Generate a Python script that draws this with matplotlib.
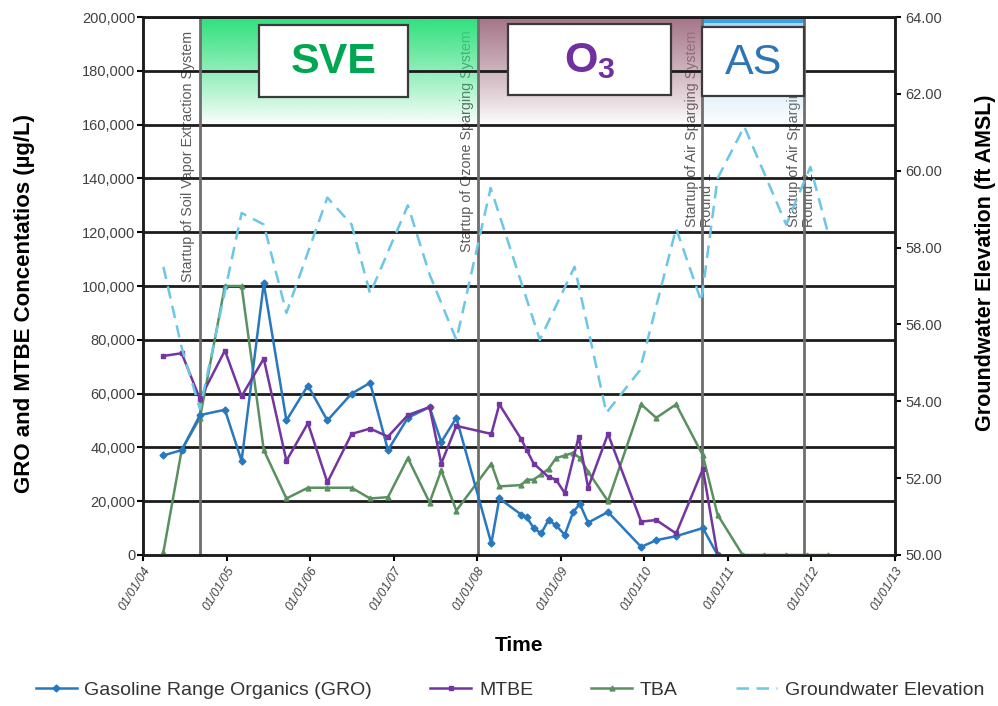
import matplotlib
matplotlib.use('Agg')
import matplotlib.pyplot as plt
import matplotlib.dates as mdates
import matplotlib.colors as mcolors
from matplotlib.patches import Rectangle
from matplotlib.ticker import FuncFormatter, MultipleLocator
import numpy as np
import pandas as pd

plt.rcParams['font.family'] = ['Liberation Sans', 'DejaVu Sans']
plt.rcParams['mathtext.fontset'] = 'custom'
plt.rcParams['mathtext.rm'] = 'Liberation Sans'
plt.rcParams['mathtext.bf'] = 'Liberation Sans:bold'

# concentration data (ug/L)
gro_dates = ['2004-03-30', '2004-06-18', '2004-09-06', '2004-12-24', '2005-03-07', '2005-06-12',
             '2005-09-19', '2005-12-22', '2006-03-17', '2006-07-01', '2006-09-20', '2006-12-07',
             '2007-03-04', '2007-06-07', '2007-07-28', '2007-10-02', '2008-03-03', '2008-04-07',
             '2008-07-12', '2008-08-05', '2008-09-04', '2008-10-07', '2008-11-08', '2008-12-11',
             '2009-01-18', '2009-02-24', '2009-03-25', '2009-04-30', '2009-07-26', '2009-12-18',
             '2010-02-22', '2010-05-20', '2010-09-14', '2010-11-17']
gro = [37000, 39000, 52000, 54000, 35000, 101000, 50000, 63000, 50000, 60000, 64000, 39000,
       51000, 55000, 42000, 51000, 4300, 21000, 15000, 14000, 10000, 8000, 13000, 11000,
       7500, 16000, 19000, 12000, 16000, 3000, 5500, 7000, 10000, 0]

mtbe_dates = ['2004-03-30', '2004-06-18', '2004-09-06', '2004-12-24', '2005-03-07', '2005-06-12',
              '2005-09-19', '2005-12-22', '2006-03-17', '2006-07-01', '2006-09-20', '2006-12-07',
              '2007-03-04', '2007-06-07', '2007-07-28', '2007-10-02', '2008-03-03', '2008-04-07',
              '2008-07-12', '2008-08-05', '2008-09-04', '2008-11-08', '2008-12-11', '2009-01-18',
              '2009-03-20', '2009-04-30', '2009-07-26', '2009-12-18', '2010-02-22', '2010-05-20',
              '2010-09-14', '2010-11-17']
mtbe = [74000, 75000, 58000, 76000, 59000, 73000, 35000, 49000, 27000, 45000, 47000, 44000,
        52000, 55000, 34000, 48000, 45000, 56000, 43000, 39000, 34000, 29000, 28000, 23000,
        44000, 25000, 45000, 12400, 13000, 8000, 32000, 0]

tba_dates = gro_dates + ['2011-03-07', '2011-06-10', '2011-09-13', '2011-12-15', '2012-03-16']
tba = [1000, 39000, 51000, 100000, 100000, 39000, 21000, 25000, 25000, 25000, 21000, 21500,
       36000, 19500, 31500, 16500, 34000, 25500, 26000, 28000, 28000, 30000, 32000, 36000,
       37000, 38000, 36000, 31000, 20000, 56000, 51000, 56000, 37000, 15000, 0, 0, 0, 0, 0]

# groundwater elevation (ft AMSL)
gw_dates = ['2004-03-30', '2004-06-18', '2004-09-06', '2005-03-07', '2005-06-12', '2005-09-19',
            '2006-03-17', '2006-07-01', '2006-09-20', '2007-03-04', '2007-06-07', '2007-10-02',
            '2008-02-29', '2008-10-01', '2009-03-02', '2009-07-19', '2009-12-12', '2010-05-20',
            '2010-09-07', '2010-11-17', '2011-03-14', '2011-09-13', '2011-12-28', '2012-03-13']
gw_elev = [57.5, 55.4, 53.8, 58.9, 58.6, 56.3, 59.3, 58.6, 56.8, 59.1, 57.3, 55.6,
           59.55, 55.6, 57.5, 53.7, 54.8, 58.5, 56.6, 59.8, 61.15, 58.6, 60.1, 58.4]

event_dates = ['2004-09-06', '2008-01-03', '2010-09-12', '2011-12-01']
event_labels = ['Startup of Soil Vapor Extraction System',
                'Startup of Ozone Sparging System',
                'Startup of Air Sparging System\nRound 1',
                'Startup of Air Sparging System\nRound 2']
event_label_y = [101500, 112600, 121900, 121900]
event_label_dx = [-8.5, -8, -2, -2]

c_gro = '#2878C0'
c_mtbe = '#7435A0'
c_tba = '#5A9060'
c_gw = '#6CC6E6'

d = lambda s: mdates.date2num(pd.to_datetime(s))

fig = plt.figure(figsize=(9.98, 7.06), dpi=100)
ax = fig.add_axes([0.1433, 0.2139, 0.7535, 0.7620])
ax2 = ax.twinx()

ev = [d(s) for s in event_dates]


def shade(x0, x1, color, y0=160000, y1=200000):
    img = np.zeros((200, 1, 4))
    img[:, 0, :3] = mcolors.to_rgb(color)
    img[:, 0, 3] = np.linspace(1, 0, 200) ** 0.9
    ax.imshow(img, extent=[x0, x1, y0, y1], aspect='auto', zorder=1,
              interpolation='bilinear')


shade(ev[0], ev[1], '#2FE07C')
shade(ev[1], ev[2], '#A47486')
shade(ev[2], ev[3], '#A6D4F2')
ax.add_patch(Rectangle((ev[2], 197700), ev[3] - ev[2], 2300, color='#3AA2E4', lw=0, zorder=1.2))

# horizontal grid
for v in range(20000, 200001, 20000):
    ax.axhline(v, color='#1c1c1c', lw=2, zorder=1.5)

# event lines and labels
for x, lab, ly, dx in zip(ev, event_labels, event_label_y, event_label_dx):
    ax.axvline(x, color='#6e6e6e', lw=2, zorder=1.6)
    ax.annotate(lab, xy=(x, ly), xytext=(dx, 0), textcoords='offset points',
                rotation=90, ha='center', va='bottom', multialignment='left',
                fontsize=10.3, color='#5a5a5a', zorder=0.5, linespacing=1.1)

# phase boxes
boxes = [(d('2005-05-22'), d('2007-03-03'), 170200, 197000, 'SVE', '#00A651', 'bold'),
         (d('2008-05-15'), d('2010-04-27'), 171000, 197400, r'$\mathbf{O_3}$', '#7030A0', 'bold'),
         (ev[2], ev[3], 170600, 196300, 'AS', '#2E75B6', 'normal')]
for x0, x1, y0, y1, txt, col, wt in boxes:
    ax.add_patch(Rectangle((x0, y0), x1 - x0, y1 - y0, facecolor='white',
                           edgecolor='#3a3a3a', lw=1.6, zorder=4))
    ax.text((x0 + x1) / 2, (y0 + y1) / 2 - 500, txt, ha='center', va='center',
            fontsize=31, color=col, fontweight=wt, zorder=5)

l1, = ax.plot(pd.to_datetime(gro_dates), gro, color=c_gro, lw=1.8, marker='D', ms=3.5,
              zorder=6, label='Gasoline Range Organics (GRO)')
l2, = ax.plot(pd.to_datetime(mtbe_dates), mtbe, color=c_mtbe, lw=1.8, marker='s', ms=3.5,
              zorder=6, label='MTBE')
l3, = ax.plot(pd.to_datetime(tba_dates), tba, color=c_tba, lw=1.8, marker='^', ms=3.5,
              zorder=5, label='TBA')
l4, = ax2.plot(pd.to_datetime(gw_dates), gw_elev, color=c_gw, lw=1.8, ls=(0, (5, 3)),
               label='Groundwater Elevation')

ax.set_xlim(d('2004-01-01'), d('2013-01-01'))
ax.set_ylim(0, 200000)
ax2.set_ylim(50, 64)
ax.xaxis.set_major_locator(mdates.YearLocator())
ax.xaxis.set_major_formatter(mdates.DateFormatter('%m/%d/%y'))
ax.yaxis.set_major_locator(MultipleLocator(20000))
ax.yaxis.set_major_formatter(FuncFormatter(lambda v, p: f'{int(v):,}'))
ax2.yaxis.set_major_locator(MultipleLocator(2))
ax2.yaxis.set_major_formatter(FuncFormatter(lambda v, p: f'{v:.2f}'))

for lab in ax.get_xticklabels():
    lab.set_rotation(58)
    lab.set_ha('right')
    lab.set_va('top')
    lab.set_rotation_mode('anchor')
    lab.set_fontsize(9)
    lab.set_style('italic')
    lab.set_color('#404040')
ax.tick_params(axis='y', labelsize=10.5, labelcolor='#404040', length=4, width=1.5, pad=1.5)
ax.tick_params(axis='x', length=4, width=1.5, pad=3)
ax2.tick_params(axis='y', labelsize=10.5, labelcolor='#404040', length=4, width=1.5)

for a in (ax, ax2):
    for s in a.spines.values():
        s.set_color('#1c1c1c')
        s.set_linewidth(1.8)

ax.set_xlabel('Time', fontsize=15, fontweight='bold', labelpad=17)
ax.set_ylabel('GRO and MTBE Concentatios (µg/L)', fontsize=16, fontweight='bold')
ax2.set_ylabel('Groundwater Elevation (ft AMSL)', fontsize=15.5, fontweight='bold')
ax.yaxis.set_label_coords(-0.144, 0.468)
ax2.yaxis.set_label_coords(1.106, 0.543)

fig.legend(handles=[l1, l2, l3, l4], loc='center', bbox_to_anchor=(0.511, 0.023), ncol=4,
           frameon=False, fontsize=14, columnspacing=3.0, handlelength=2.1,
           handletextpad=0.4, labelcolor='#333333')

fig.savefig('out.png', dpi=100, facecolor='white')
